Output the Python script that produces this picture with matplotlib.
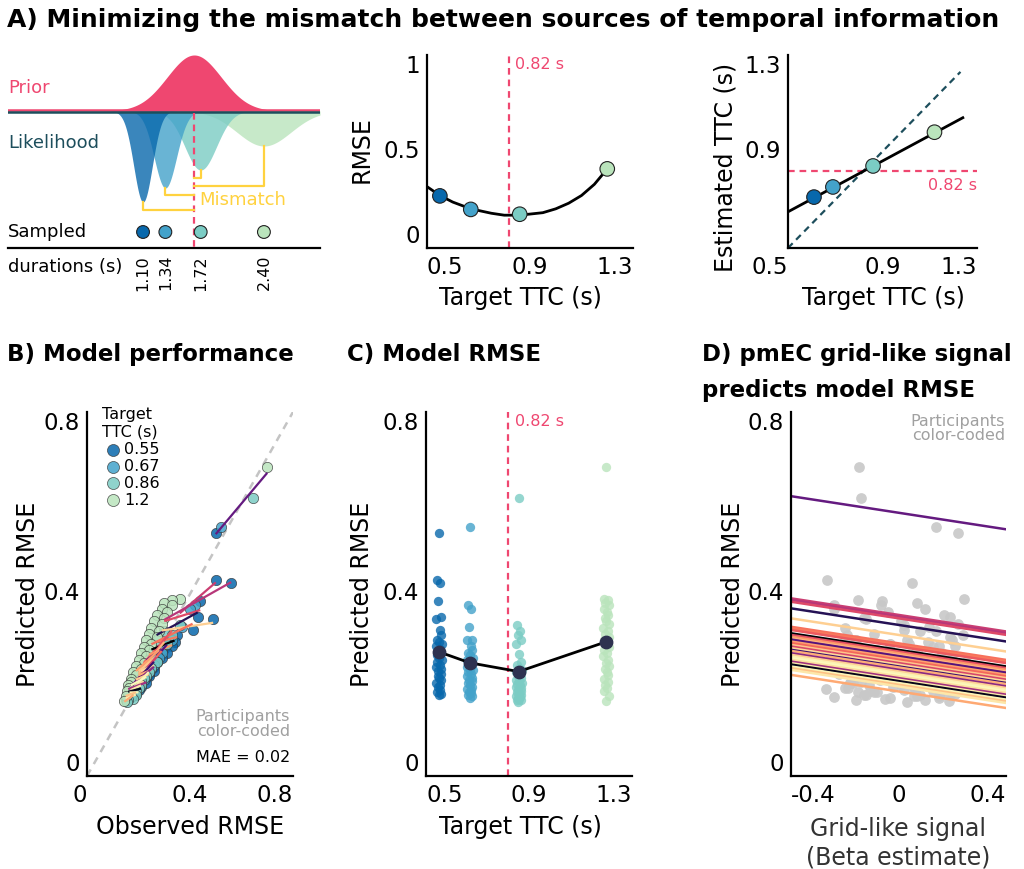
import numpy as np
import matplotlib
matplotlib.use("Agg")
import matplotlib.pyplot as plt
from matplotlib import cm

plt.rcParams["font.family"] = ["DejaVu Sans"]

W, H = 1024, 869

PINK = "#EF4770"
TEAL_DARK = "#1D4E5C"
YELLOW = "#FFD23F"
NAVY = "#2E3250"
GREY_TXT = "#A0A0A0"
DASH = (0, (3, 2.2))

TICK_FS = 16.5
LABEL_FS = 17
NOTE_FS = 11.5

# ── data ─────────────────────────────────────────────────────

ttc_levels = [0.55, 0.67, 0.86, 1.2]
ttc_labels = ["0.55", "0.67", "0.86", "1.2"]
ttc_colors = ["#0868ac", "#43a2ca", "#7bccc4", "#bae4bc"]
prior_ttc = 0.82

# A (left): schematic prior / likelihoods
durations = [1.10, 1.34, 1.72, 2.40]
duration_labels = ["1.10", "1.34", "1.72", "2.40"]
lik_sd = [0.10, 0.12, 0.17, 0.29]
lik_depth = [91, 77, 59, 35]
bracket_bottom = [-99, -84, -67, -75]
prior_mean, prior_sd, prior_height = 1.65, 0.29, 56

# A (middle): RMSE curve
rmse_curve_x = [0.5, 0.55, 0.6, 0.67, 0.75, 0.8, 0.86, 0.95, 1.0, 1.05, 1.1, 1.15, 1.2]
rmse_curve_y = [0.318, 0.272, 0.238, 0.203, 0.180, 0.170, 0.170, 0.183, 0.203,
                0.232, 0.272, 0.330, 0.410]
model_rmse = [0.27, 0.20, 0.175, 0.41]

# A (right): estimated vs target
est_dot_x = [0.61, 0.69, 0.86, 1.12]
est_dot_y = [0.711, 0.753, 0.84, 0.98]
est_line_x = [0.5, 1.24]
est_line_y = [0.65, 1.04]
identity_end = 1.23

# B/C: predicted and observed RMSE, one entry per participant
pred_055 = [0.535, 0.43, 0.425, 0.385, 0.35, 0.345, 0.32, 0.31, 0.30, 0.295, 0.29, 0.285,
            0.28, 0.275, 0.27, 0.265, 0.26, 0.255, 0.25, 0.245, 0.24, 0.235, 0.23, 0.225,
            0.22, 0.215, 0.21, 0.205, 0.20, 0.195, 0.19, 0.185, 0.18, 0.178]
pred_067 = [0.547, 0.376, 0.368, 0.327, 0.30, 0.298, 0.285, 0.278, 0.27, 0.265, 0.26, 0.255,
            0.25, 0.247, 0.243, 0.24, 0.236, 0.232, 0.228, 0.224, 0.22, 0.216, 0.212, 0.208,
            0.204, 0.2, 0.196, 0.192, 0.188, 0.185, 0.182, 0.179, 0.176, 0.172]
pred_086 = [0.61, 0.332, 0.318, 0.31, 0.298, 0.29, 0.268, 0.25, 0.244, 0.238, 0.232, 0.228,
            0.224, 0.22, 0.216, 0.212, 0.208, 0.205, 0.202, 0.199, 0.196, 0.193, 0.19, 0.187,
            0.184, 0.181, 0.178, 0.176, 0.174, 0.172, 0.17, 0.168, 0.166, 0.163]
pred_120 = [0.68, 0.389, 0.386, 0.381, 0.375, 0.368, 0.361, 0.354, 0.347, 0.34, 0.333, 0.326,
            0.319, 0.312, 0.305, 0.298, 0.291, 0.284, 0.277, 0.27, 0.263, 0.256, 0.249, 0.242,
            0.235, 0.228, 0.221, 0.214, 0.207, 0.2, 0.193, 0.186, 0.175, 0.165]

obs_055 = [0.50, 0.50, 0.56, 0.44, 0.43, 0.49, 0.41, 0.35, 0.33, 0.34, 0.31, 0.33,
           0.30, 0.29, 0.31, 0.28, 0.29, 0.27, 0.27, 0.26, 0.26, 0.25, 0.26, 0.24,
           0.24, 0.23, 0.22, 0.23, 0.21, 0.21, 0.20, 0.19, 0.19, 0.18]
obs_067 = [0.52, 0.42, 0.40, 0.37, 0.32, 0.33, 0.30, 0.29, 0.29, 0.27, 0.28, 0.26,
           0.27, 0.25, 0.26, 0.24, 0.25, 0.23, 0.24, 0.22, 0.23, 0.21, 0.22, 0.20,
           0.21, 0.19, 0.20, 0.19, 0.18, 0.19, 0.17, 0.18, 0.17, 0.16]
obs_086 = [0.645, 0.36, 0.30, 0.33, 0.27, 0.31, 0.25, 0.27, 0.22, 0.25, 0.21, 0.24,
           0.20, 0.23, 0.22, 0.19, 0.21, 0.20, 0.19, 0.21, 0.18, 0.20, 0.17, 0.19,
           0.18, 0.17, 0.19, 0.16, 0.17, 0.16, 0.18, 0.15, 0.16, 0.155]
obs_120 = [0.70, 0.36, 0.33, 0.30, 0.33, 0.29, 0.31, 0.27, 0.30, 0.26, 0.29, 0.25,
           0.28, 0.24, 0.27, 0.23, 0.25, 0.22, 0.24, 0.21, 0.23, 0.20, 0.22, 0.19,
           0.21, 0.18, 0.19, 0.17, 0.17, 0.16, 0.165, 0.155, 0.15, 0.145]

# C: horizontal spread of the dots within a column (TTC units)
col_jitter = [0.0, -0.008, 0.006, -0.004, 0.01, -0.01, 0.003, 0.008, -0.006, 0.0,
              0.012, -0.012, 0.005, -0.003, 0.009, -0.009, 0.002, 0.011, -0.007, 0.004,
              -0.011, 0.007, -0.002, 0.01, -0.005, 0.001, 0.008, -0.01, 0.006, -0.004,
              0.003, -0.008, 0.009, -0.001]

# D: grid-like signal (beta) per participant and condition
beta_055 = [0.22, -0.265, 0.05, -0.06, 0.19, -0.12, 0.02, 0.24, -0.2, 0.11, -0.03, 0.15,
            -0.17, 0.07, -0.09, 0.2, -0.25, 0.0, 0.13, -0.14, 0.09, -0.05, 0.17, -0.22,
            0.04, -0.1, 0.23, -0.18, 0.12, -0.02, 0.06, -0.15, 0.18, 0.08]
beta_067 = [0.138, -0.064, -0.24, 0.112, 0.03, -0.16, 0.21, -0.08, 0.16, -0.21, 0.05, -0.11,
            0.25, -0.01, 0.1, -0.19, 0.14, -0.06, -0.23, 0.19, -0.13, 0.08, -0.04, 0.22,
            -0.17, 0.01, 0.12, -0.27, 0.06, -0.09, 0.2, -0.12, 0.15, -0.03]
beta_086 = [-0.138, 0.019, 0.14, -0.19, 0.198, -0.03, -0.22, 0.09, -0.1, 0.16, -0.26, 0.04,
            0.2, -0.14, 0.11, -0.07, 0.24, -0.18, 0.06, -0.11, 0.18, -0.2, 0.02, 0.13,
            -0.08, 0.21, -0.13, 0.07, -0.24, 0.15, -0.05, 0.1, -0.16, 0.03]
beta_120 = [-0.146, 0.243, -0.15, 0.07, -0.24, 0.1, -0.04, 0.17, -0.13, 0.01, 0.22, -0.2,
            0.08, -0.09, 0.19, -0.16, 0.04, 0.13, -0.26, 0.06, -0.07, 0.16, -0.11, 0.11,
            -0.21, 0.09, -0.02, 0.2, -0.14, 0.05, -0.187, -0.105, 0.056, 0.187]

# D: model line per participant (value at beta = -0.4) and shared slope
d_line_start = [0.615, 0.3905, 0.387, 0.383, 0.3685, 0.3465, 0.328, 0.3245, 0.321, 0.3136,
                0.310, 0.3063, 0.3026, 0.300, 0.299, 0.2956, 0.292, 0.288, 0.2846, 0.281,
                0.2773, 0.275, 0.270, 0.2663, 0.2626, 0.259, 0.2553, 0.2516, 0.248, 0.245,
                0.2407, 0.237, 0.2333, 0.2223]
d_slope = -0.091

# participant colour position on the magma scale
participant_hue = [0.3, 0.55, 0.5, 0.6, 0.15, 0.9, 0.7, 0.72, 0.65, 0.0,
                   0.62, 0.78, 0.85, 0.35, 0.25, 0.8, 0.68, 0.88, 0.58, 0.92,
                   0.2, 0.83, 0.4, 0.9, 0.97, 0.99, 0.93, 0.45, 0.96, 0.05,
                   0.98, 0.87, 0.95, 0.82]

pred_all = [pred_055, pred_067, pred_086, pred_120]
obs_all = [obs_055, obs_067, obs_086, obs_120]
beta_all = [beta_055, beta_067, beta_086, beta_120]
mae = 0.02


def fx(x):
    return x / W


def fy(y):
    return 1 - y / H


def add_ax(fig, left, top, right, bottom):
    ax = fig.add_axes([fx(left), fy(bottom), (right - left) / W, (bottom - top) / H])
    for s in ("top", "right"):
        ax.spines[s].set_visible(False)
    for s in ("left", "bottom"):
        ax.spines[s].set_linewidth(1.6)
    ax.tick_params(length=0, labelsize=TICK_FS)
    ax.tick_params(axis="x", pad=6)
    ax.tick_params(axis="y", pad=5)
    return ax


def edge_labels(ax, xha=None, yva=None):
    if xha:
        for t, a in zip(ax.get_xticklabels(), xha):
            t.set_ha(a)
    if yva:
        for t, a in zip(ax.get_yticklabels(), yva):
            t.set_va(a)


def axis_label(fig, x, y, text, rotation=0, color="black"):
    fig.text(fx(x), fy(y), text, rotation=rotation, fontsize=LABEL_FS,
             ha="center", va="center", color=color)


fig = plt.figure(figsize=(W / 100, H / 100), dpi=100)

# ── titles ───────────────────────────────────────────────────
tkw = dict(fontweight="bold", va="center", ha="left")
fig.text(fx(7), fy(20), "A) Minimizing the mismatch between sources of temporal information",
         fontsize=18, **tkw)
fig.text(fx(7), fy(355), "B) Model performance", fontsize=16.5, **tkw)
fig.text(fx(347), fy(355), "C) Model RMSE", fontsize=16.5, **tkw)
fig.text(fx(702), fy(355), "D) pmEC grid-like signal", fontsize=16.5, **tkw)
fig.text(fx(702), fy(390), "predicts model RMSE", fontsize=16.5, **tkw)

# ── A left: schematic ────────────────────────────────────────
ax = fig.add_axes([fx(8), fy(248), (320 - 8) / W, (248 - 45) / H])
ax.set_xlim(-0.352, 3.003)
ax.set_ylim(-137, 66)
for s in ("top", "right", "left"):
    ax.spines[s].set_visible(False)
ax.spines["bottom"].set_linewidth(1.6)
ax.set_yticks([])
ax.set_xticks(durations, labels=duration_labels, rotation=90)
ax.tick_params(length=0, labelsize=11.5, pad=5)

xs = np.linspace(-0.352, 3.003, 500)
prior = prior_height * np.exp(-0.5 * ((xs - prior_mean) / prior_sd) ** 2)
ax.fill_between(xs, 0, prior, color=PINK, lw=0, zorder=2)
for d, sd, dep, c in list(zip(durations, lik_sd, lik_depth, ttc_colors))[::-1]:
    lik = -dep * np.exp(-0.5 * ((xs - d) / sd) ** 2)
    ax.fill_between(xs, 0, lik, color=c, alpha=0.8, lw=0, zorder=2)
ax.axhline(1.3, color=PINK, lw=1.8, zorder=3)
ax.axhline(-1.3, color=TEAL_DARK, lw=1.8, zorder=3)
ax.plot([prior_mean, prior_mean], [-2, -137], color=PINK, lw=1.6, ls=DASH, zorder=4)
for d, dep, yb in zip(durations, lik_depth, bracket_bottom):
    ax.plot([d, d, prior_mean], [-dep, yb, yb], color=YELLOW, lw=1.6, zorder=4)
ax.scatter(durations, [-121] * 4, s=85, c=ttc_colors, edgecolors="#222222",
           linewidths=0.8, zorder=5)
akw = dict(fontsize=13, va="center")
ax.text(-0.352, 23, "Prior", color=PINK, **akw)
ax.text(-0.352, -32, "Likelihood", color=TEAL_DARK, **akw)
ax.text(1.70, -89, "Mismatch", color=YELLOW, **akw)
ax.text(-0.352, -121, "Sampled", color="black", **akw)
ax.text(-0.352, -156, "durations (s)", color="black", clip_on=False, **akw)

# ── A middle: RMSE vs target ─────────────────────────────────
ax = add_ax(fig, 427, 55, 633, 248)
ax.set_xlim(0.5, 1.3)
ax.set_ylim(0, 1)
ax.plot(rmse_curve_x, rmse_curve_y, color="black", lw=2, zorder=2)
ax.axvline(prior_ttc, color=PINK, lw=1.6, ls=DASH, zorder=1)
ax.scatter(ttc_levels, model_rmse, s=110, c=ttc_colors, edgecolors="#222222",
           linewidths=0.8, zorder=3, clip_on=False)
ax.text(0.842, 0.95, "0.82 s", color=PINK, fontsize=NOTE_FS, va="center")
ax.set_xticks([0.5, 0.9, 1.3], labels=["0.5", "0.9", "1.3"])
ax.set_yticks([0, 0.5, 1], labels=["0", "0.5", "1"])
edge_labels(ax, ["left", "center", "right"], ["bottom", "center", "top"])
axis_label(fig, 362, 150, "RMSE", rotation=90)
axis_label(fig, 520, 298, "Target TTC (s)")

# ── A right: estimated vs target ─────────────────────────────
ax = add_ax(fig, 788, 55, 977, 248)
ax.set_xlim(0.5, 1.3)
ax.set_ylim(0.5, 1.3)
ax.plot([0.5, identity_end], [0.5, identity_end], color=TEAL_DARK, lw=1.6, ls=DASH, zorder=1)
ax.axhline(prior_ttc, color=PINK, lw=1.6, ls=DASH, zorder=1)
ax.plot(est_line_x, est_line_y, color="black", lw=2, zorder=2)
ax.scatter(est_dot_x, est_dot_y, s=110, c=ttc_colors, edgecolors="#222222",
           linewidths=0.8, zorder=3)
ax.text(1.3, 0.761, "0.82 s", color=PINK, fontsize=NOTE_FS, va="center", ha="right")
ax.set_xticks([0.5, 0.9, 1.3], labels=["0.5", "0.9", "1.3"])
ax.set_yticks([0.9, 1.3], labels=["0.9", "1.3"])
edge_labels(ax, ["right", "center", "right"], ["center", "top"])
axis_label(fig, 725, 167, "Estimated TTC (s)", rotation=90)
axis_label(fig, 883, 298, "Target TTC (s)")

# ── B: model performance ─────────────────────────────────────
ax = add_ax(fig, 87, 412, 293, 776)
ax.set_xlim(0, 0.8)
ax.set_ylim(0, 0.8)
ax.plot([0, 0.8], [0, 0.8], color="#C4C4C4", lw=1.8, ls=(0, (3, 2.5)), zorder=1)
for obs, pred, c in zip(obs_all, pred_all, ttc_colors):
    ax.scatter(obs, pred, s=55, color=c, alpha=0.85, edgecolors="#333333",
               linewidths=0.5, zorder=2)
obs_arr = np.array(obs_all).T
pred_arr = np.array(pred_all).T
for i in range(len(pred_055)):
    k, b = np.polyfit(obs_arr[i], pred_arr[i], 1)
    x0, x1 = obs_arr[i].min(), obs_arr[i].max()
    ax.plot([x0, x1], [k * x0 + b, k * x1 + b], color=cm.magma(participant_hue[i]),
            lw=1.6, zorder=3, solid_capstyle="butt")
handles = [ax.scatter([], [], s=75, color=c, alpha=0.85, edgecolors="#333333", linewidths=0.5)
           for c in ttc_colors]
ax.legend(handles, ttc_labels, title="Target\nTTC (s)", loc="upper left",
          bbox_to_anchor=(0.04, 1.03), frameon=False, alignment="left",
          handletextpad=0.0, labelspacing=0.12, borderaxespad=0,
          fontsize=NOTE_FS, title_fontsize=NOTE_FS, handlelength=1.4)
ax.text(0.985, 0.143, "Participants\ncolor-coded", transform=ax.transAxes, ha="right",
        va="center", color=GREY_TXT, fontsize=NOTE_FS, linespacing=0.95)
ax.text(0.985, 0.05, f"MAE = {mae:.2f}", transform=ax.transAxes, ha="right",
        va="center", fontsize=NOTE_FS)
ax.set_xticks([0, 0.4, 0.8], labels=["0", "0.4", "0.8"])
ax.set_yticks([0, 0.4, 0.8], labels=["0", "0.4", "0.8"])
edge_labels(ax, ["right", "center", "right"], ["bottom", "center", "top"])
axis_label(fig, 28, 594, "Predicted RMSE", rotation=90)
axis_label(fig, 190, 827, "Observed RMSE")

# ── C: model RMSE per target TTC ─────────────────────────────
ax = add_ax(fig, 426, 412, 632, 776)
ax.set_xlim(0.5, 1.3)
ax.set_ylim(0, 0.8)
ax.axvline(prior_ttc, color=PINK, lw=1.6, ls=DASH, zorder=1)
for lvl, pred, c in zip(ttc_levels, pred_all, ttc_colors):
    ax.scatter(np.add(lvl, col_jitter), pred, s=45, color=c, alpha=0.8, lw=0, zorder=2)
means = [np.mean(p) for p in pred_all]
ax.plot(ttc_levels, means, color="black", lw=2, zorder=3)
ax.scatter(ttc_levels, means, s=80, color=NAVY, zorder=4)
ax.text(0.846, 0.78, "0.82 s", color=PINK, fontsize=NOTE_FS, va="center")
ax.set_xticks([0.5, 0.9, 1.3], labels=["0.5", "0.9", "1.3"])
ax.set_yticks([0, 0.4, 0.8], labels=["0", "0.4", "0.8"])
edge_labels(ax, ["left", "center", "right"], ["bottom", "center", "top"])
axis_label(fig, 362, 594, "Predicted RMSE", rotation=90)
axis_label(fig, 520, 827, "Target TTC (s)")

# ── D: grid-like signal vs model RMSE ────────────────────────
ax = add_ax(fig, 791, 412, 1006, 776)
ax.set_xlim(-0.4, 0.4)
ax.set_ylim(0, 0.8)
for beta, pred in zip(beta_all, pred_all):
    ax.scatter(beta, pred, s=60, color="#C8C8C8", alpha=0.9, lw=0, zorder=1)
xl = np.array([-0.4, 0.4])
for i, y0 in enumerate(d_line_start):
    ax.plot(xl, y0 + d_slope * (xl + 0.4), color=cm.magma(participant_hue[i]),
            lw=1.8, zorder=2)
ax.text(0.995, 0.955, "Participants\ncolor-coded", transform=ax.transAxes, ha="right",
        va="center", color=GREY_TXT, fontsize=NOTE_FS, linespacing=0.95)
ax.set_xticks([-0.4, 0, 0.4], labels=["-0.4", "0", "0.4"])
ax.set_yticks([0, 0.4, 0.8], labels=["0", "0.4", "0.8"])
edge_labels(ax, ["left", "center", "right"], ["bottom", "center", "top"])
axis_label(fig, 733, 594, "Predicted RMSE", rotation=90)
axis_label(fig, 898, 829, "Grid-like signal", color="#333333")
axis_label(fig, 898, 858, "(Beta estimate)", color="#333333")

fig.savefig("out.png", dpi=100)
